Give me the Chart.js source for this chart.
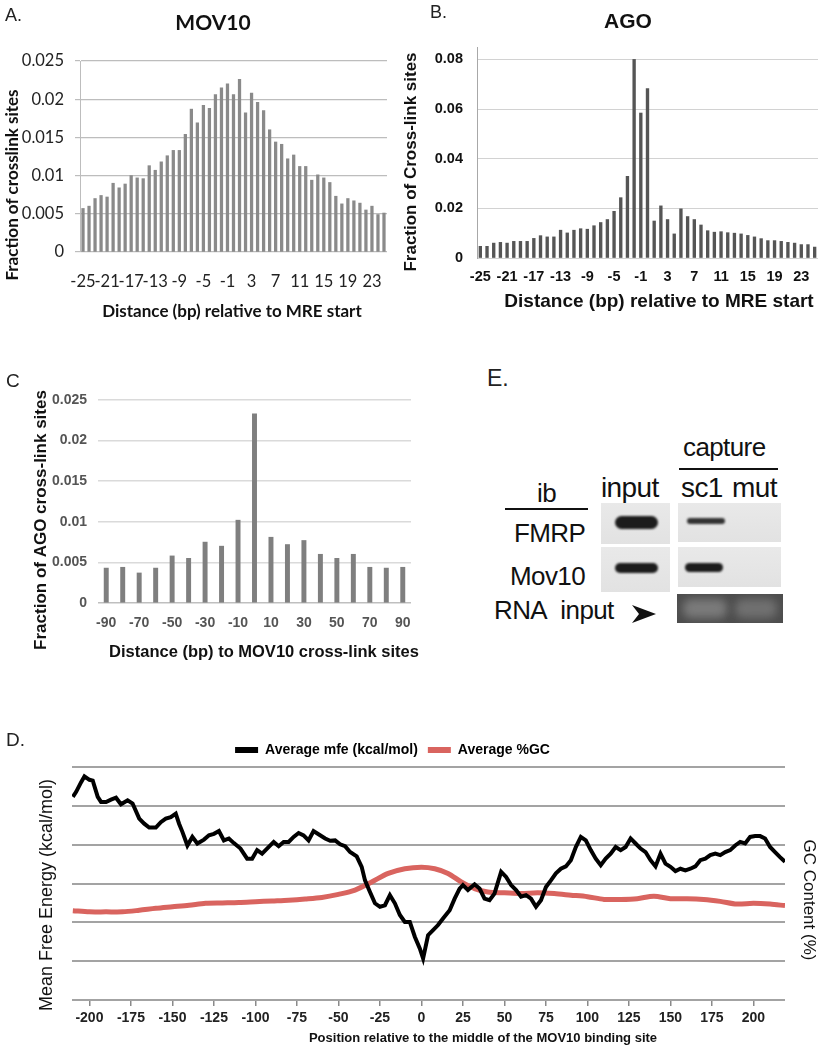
<!DOCTYPE html>
<html>
<head>
<meta charset="utf-8">
<script src="https://cdn.jsdelivr.net/npm/chart.js@4.4.1/dist/chart.umd.min.js"></script>
<style>
  body { margin: 0; background: #fff; width: 826px; height: 1050px; position: relative; overflow: hidden; font-family: "Liberation Sans", Arial, sans-serif; }
  .pane { position: absolute; }
  .letter { position: absolute; font-family: "Liberation Sans Narrow", sans-serif; color: #222; line-height: 1; }
  .blot { position: absolute; background: linear-gradient(180deg, #e9e9e9, #e2e2e2); }
  .band { position: absolute; background: #1c1c1c; border-radius: 7px; filter: blur(0.8px); }
  .lbl { position: absolute; font-size: 26px; color: #111; line-height: 1; white-space: nowrap; letter-spacing: -0.6px; }
  .rule { position: absolute; height: 1.5px; background: #111; }
</style>
</head>
<body>

<div class="pane" style="left:0;top:0"><canvas id="chartA" width="400" height="330"></canvas></div>
<div class="pane" style="left:400px;top:0"><canvas id="chartB" width="426" height="330"></canvas></div>
<div class="pane" style="left:0;top:330px"><canvas id="chartC" width="420" height="330"></canvas></div>
<div class="pane" style="left:0;top:730px"><canvas id="chartD" width="826" height="320"></canvas></div>

<div class="letter" style="left:5px;top:6px;font-size:18px">A.</div>
<div class="letter" style="left:430px;top:3px;font-size:18px">B.</div>
<div class="letter" style="left:6px;top:371px;font-size:19px">C</div>
<div class="letter" style="left:6px;top:730px;font-size:19px">D.</div>
<div class="letter" style="left:487px;top:367px;font-size:23px">E.</div>

<!-- panel E : pull-down blot -->
<div class="lbl" style="left:683px;top:434px">capture</div>
<div class="rule" style="left:679px;top:468px;width:99px"></div>
<div class="lbl" style="left:601px;top:474px;font-size:28px">input</div>
<div class="lbl" style="left:681px;top:474px;font-size:28px">sc1</div>
<div class="lbl" style="left:732px;top:474px;font-size:28px">mut</div>
<div class="lbl" style="left:537px;top:480px">ib</div>
<div class="rule" style="left:505px;top:508px;width:83px"></div>
<div class="lbl" style="left:514px;top:520px">FMRP</div>
<div class="lbl" style="left:510px;top:563px">Mov10</div>
<div class="lbl" style="left:494px;top:597px">RNA&nbsp;&nbsp;input</div>
<svg style="position:absolute;left:632px;top:605px" width="24" height="18"><path d="M0 0 L24 9 L0 18 L7 9 Z" fill="#111"/></svg>

<div class="blot" style="left:601px;top:503px;width:69px;height:41px"></div>
<div class="blot" style="left:678px;top:503px;width:103px;height:39px"></div>
<div class="blot" style="left:601px;top:547px;width:69px;height:45px"></div>
<div class="blot" style="left:678px;top:547px;width:103px;height:40px"></div>
<div class="band" style="left:615px;top:516px;width:43px;height:13px"></div>
<div class="band" style="left:687px;top:518px;width:38px;height:6px;background:#333"></div>
<div class="band" style="left:615px;top:563px;width:43px;height:10px"></div>
<div class="band" style="left:685px;top:563px;width:38px;height:9px"></div>
<div style="position:absolute;left:677px;top:594px;width:106px;height:29px;background:#4d4d4d;overflow:hidden">
  <div style="position:absolute;left:6px;top:5px;width:44px;height:19px;border-radius:8px;background:#7a7a7a;filter:blur(4px)"></div>
  <div style="position:absolute;left:58px;top:5px;width:42px;height:19px;border-radius:8px;background:#707070;filter:blur(4px)"></div>
</div>

<script>
// ---- data ----
const mreDist = ['-25','-24','-23','-22','-21','-20','-19','-18','-17','-16','-15','-14','-13','-12','-11','-10','-9','-8','-7','-6','-5','-4','-3','-2','-1',
  '0','1','2','3','4','5','6','7','8','9','10','11','12','13','14','15','16','17','18','19','20','21','22','23','24','25'];
const mreTickLabels = ['-25','-21','-17','-13','-9','-5','-1','3','7','11','15','19','23'];

const mov10Frac = [0.0057,0.0060,0.0070,0.0074,0.0072,0.0090,0.0084,0.0089,0.0100,0.0097,0.0096,0.0113,0.0107,0.0118,0.0126,0.0133,0.0133,
  0.0154,0.0187,0.0169,0.0192,0.0188,0.0206,0.0215,0.0220,0.0206,0.0226,0.0182,0.0208,0.0196,0.0185,0.0160,0.0144,0.0141,0.0122,0.0127,
  0.0112,0.0112,0.0094,0.0101,0.0097,0.0091,0.0073,0.0063,0.0070,0.0067,0.0064,0.0055,0.0060,0.0049,0.0051];

const agoFrac = [0.0047,0.0047,0.0060,0.0063,0.0060,0.0067,0.0067,0.0067,0.0079,0.0090,0.0085,0.0085,0.0112,0.0101,0.0112,0.0118,0.0116,
  0.0130,0.0143,0.0155,0.0188,0.0243,0.0329,0.0800,0.0584,0.0682,0.0149,0.0210,0.0155,0.0097,0.0198,0.0167,0.0155,0.0133,0.0110,0.0104,
  0.0106,0.0102,0.0100,0.0097,0.0091,0.0085,0.0078,0.0070,0.0070,0.0067,0.0063,0.0060,0.0054,0.0054,0.0044];

const mov10Dist = ['-90','-80','-70','-60','-50','-40','-30','-20','-10','0','10','20','30','40','50','60','70','80','90'];
const mov10TickLabels = ['-90','-70','-50','-30','-10','10','30','50','70','90'];
const agoNearMov10 = [0.0043,0.0044,0.0037,0.0043,0.0058,0.0055,0.0075,0.0070,0.0102,0.0233,0.0081,0.0072,0.0077,0.0060,0.0055,0.0060,0.0044,0.0043,0.0044];

// panel D: no tick values on the y axes, so values are in gridline units (bottom line = 0, top line = 6)
const mfePos = [-210,-208,-205,-203,-200,-198,-195,-193,-190,-187,-184,-181,-177,-174,-170,-167,-164,-160,-157,-154,-151,-148,-146,-144,
  -141,-138,-135,-131,-128,-125,-122,-119,-116,-113,-109,-105,-102,-99,-96,-93,-89,-86,-83,-80,-77,-74,-71,-68,-65,-62,-58,-55,-52,-49,
  -46,-43,-39,-36,-34,-31,-28,-25,-22,-19,-16,-13,-10,-7,-4,-1,1,4,7,10,13,17,20,23,25,28,32,35,38,41,44,48,51,54,57,60,63,66,69,72,75,
  78,81,84,87,90,93,96,99,102,105,108,111,114,117,120,123,126,129,132,135,138,141,144,147,150,153,156,159,162,165,168,171,174,177,180,
  183,186,189,192,195,198,201,204,207,210,213,216,219];
const mfeVal = [5.23,5.36,5.61,5.76,5.67,5.65,5.23,5.10,5.10,5.16,5.21,5.04,5.14,5.06,4.67,4.54,4.44,4.44,4.58,4.67,4.71,4.80,4.54,4.33,
  3.98,4.20,4.03,4.13,4.24,4.28,4.35,4.11,4.16,4.04,3.90,3.64,3.64,3.86,3.77,3.90,4.07,3.96,4.07,4.07,4.20,4.30,4.24,4.11,4.35,4.27,4.16,
  4.10,4.11,4.01,3.96,3.81,3.70,3.43,3.08,2.78,2.49,2.40,2.44,2.70,2.49,2.19,2.01,2.01,1.63,1.33,1.07,1.67,1.80,1.93,2.10,2.31,2.61,2.87,
  2.96,2.83,2.98,2.87,2.61,2.57,2.74,3.30,3.17,2.96,2.83,2.66,2.70,2.61,2.40,2.57,2.91,3.08,3.26,3.38,3.44,3.60,3.94,4.20,4.11,3.86,3.64,
  3.47,3.64,3.77,3.94,3.86,3.94,4.16,4.03,3.90,3.81,3.60,3.44,3.77,3.51,3.43,3.32,3.38,3.34,3.38,3.44,3.60,3.64,3.73,3.77,3.73,3.81,3.86,
  3.98,4.07,4.03,4.20,4.22,4.22,4.16,3.94,3.81,3.68,3.56];

const gcPos = [-210,-200,-190,-180,-170,-160,-150,-140,-130,-120,-110,-100,-90,-80,-70,-60,-50,-40,-30,-20,-10,0,8,16,24,32,40,50,60,70,
  80,90,100,110,120,130,140,150,160,170,180,190,200,210,219];
const gcVal = [2.30,2.27,2.27,2.27,2.31,2.36,2.40,2.44,2.49,2.50,2.51,2.53,2.55,2.57,2.60,2.64,2.72,2.83,3.04,3.26,3.38,3.42,3.38,3.26,
  3.04,2.87,2.78,2.76,2.74,2.76,2.74,2.70,2.66,2.59,2.59,2.61,2.67,2.61,2.61,2.59,2.54,2.47,2.49,2.47,2.43];
const posTicks = [-200,-175,-150,-125,-100,-75,-50,-25,0,25,50,75,100,125,150,175,200];

// draws titles at fixed spots, like the original figure
function textPlugin(items) {
  return {
    id: 'freeText',
    afterDraw(chart) {
      const ctx = chart.ctx;
      items.forEach(t => {
        ctx.save();
        ctx.font = t.font;
        ctx.fillStyle = t.color || '#111';
        ctx.textAlign = 'center';
        ctx.textBaseline = 'middle';
        ctx.translate(t.x, t.y);
        if (t.rot) ctx.rotate(t.rot);
        ctx.fillText(t.text, 0, 0);
        ctx.restore();
      });
    }
  };
}

function fixWidth(w) { return s => { s.width = w; }; }
function fixHeight(h) { return s => { s.height = h; }; }
const plainNum = v => String(parseFloat(v.toFixed(4)));   // 0.02 not 0.020

Chart.defaults.animation = false;
Chart.defaults.responsive = false;
Chart.defaults.plugins.legend.display = false;
Chart.defaults.plugins.tooltip.enabled = false;

// ---- A. MOV10 ----
new Chart(document.getElementById('chartA'), {
  type: 'bar',
  data: { labels: mreDist, datasets: [{ data: mov10Frac, backgroundColor: '#8a8a8a', barThickness: 2.6 }] },
  options: {
    layout: { padding: { top: 61, right: 13, left: 0, bottom: 0 } },
    scales: {
      x: {
        afterFit: fixHeight(78),
        grid: { display: false },
        border: { display: false },
        ticks: {
          autoSkip: false, maxRotation: 0, padding: 12, color: '#222',
          font: { family: 'Lato', size: 16.5 },
          callback: (v, i) => mreTickLabels.includes(mreDist[i]) ? mreDist[i] : ''
        }
      },
      y: {
        min: 0, max: 0.025,
        afterFit: fixWidth(80),
        grid: { color: '#bdbdbd', lineWidth: 1.2, tickLength: 5 },
        border: { color: '#bdbdbd' },
        ticks: { stepSize: 0.005, padding: 11, color: '#222', font: { family: 'Lato', size: 16.5 }, callback: plainNum }
      }
    }
  },
  plugins: [textPlugin([
    { text: 'MOV10', x: 213, y: 23, font: 'bold 21px Lato' },
    { text: 'Fraction of crosslink sites', x: 13, y: 185, rot: -Math.PI / 2, font: 'bold 17px Lato' },
    { text: 'Distance (bp) relative to MRE start', x: 232, y: 312, font: 'bold 17px Lato' }
  ])]
});

// ---- B. AGO ----
new Chart(document.getElementById('chartB'), {
  type: 'bar',
  data: { labels: mreDist, datasets: [{ data: agoFrac, backgroundColor: '#555555', barThickness: 2.7 }] },
  options: {
    layout: { padding: { top: 47, right: 8, left: 0, bottom: 0 } },
    scales: {
      x: {
        afterFit: fixHeight(72),
        grid: { display: false },
        border: { display: false },
        ticks: {
          autoSkip: false, maxRotation: 0, padding: 2, color: '#111',
          font: { family: 'Liberation Sans', size: 14.5, weight: 'bold' },
          callback: (v, i) => mreTickLabels.includes(mreDist[i]) ? mreDist[i] : ''
        }
      },
      y: {
        min: 0, max: 0.085,
        afterFit: fixWidth(77),
        grid: { color: '#d2d2d2', lineWidth: 1, drawTicks: false },
        border: { color: '#a8a8a8' },
        ticks: { stepSize: 0.02, includeBounds: false, padding: 14, color: '#111', font: { family: 'Liberation Sans', size: 14.5, weight: 'bold' }, callback: plainNum }
      }
    }
  },
  plugins: [textPlugin([
    { text: 'AGO', x: 228, y: 22, font: 'bold 21px "Liberation Sans"' },
    { text: 'Fraction of Cross-link sites', x: 11, y: 162, rot: -Math.PI / 2, font: 'bold 17px "Liberation Sans"' },
    { text: 'Distance (bp) relative to MRE start', x: 259, y: 302, font: 'bold 19px "Liberation Sans"' }
  ])]
});

// ---- C. AGO around MOV10 sites ----
new Chart(document.getElementById('chartC'), {
  type: 'bar',
  data: { labels: mov10Dist, datasets: [{ data: agoNearMov10, backgroundColor: '#7f7f7f', barThickness: 4.3 }] },
  options: {
    layout: { padding: { top: 70, right: 9, left: 0, bottom: 0 } },
    scales: {
      x: {
        afterFit: fixHeight(57),
        grid: { display: false },
        border: { display: false },
        ticks: {
          autoSkip: false, maxRotation: 0, padding: 4, color: '#555',
          font: { family: 'Liberation Sans', size: 14, weight: 'bold' },
          callback: (v, i) => mov10TickLabels.includes(mov10Dist[i]) ? mov10Dist[i] : ''
        }
      },
      y: {
        min: 0, max: 0.025,
        afterFit: fixWidth(98),
        grid: { color: c => c.tick.value === 0 ? '#bfbfbf' : '#dadada', lineWidth: 1.5, drawTicks: false },
        border: { display: false },
        ticks: { stepSize: 0.005, padding: 11, color: '#555', font: { family: 'Liberation Sans', size: 14, weight: 'bold' }, callback: plainNum }
      }
    }
  },
  plugins: [textPlugin([
    { text: 'Fraction of AGO cross-link sites', x: 41, y: 190, rot: -Math.PI / 2, font: 'bold 17px "Liberation Sans"' },
    { text: 'Distance (bp) to MOV10 cross-link sites', x: 264, y: 322, font: 'bold 16.5px "Liberation Sans"' }
  ])]
});

// ---- D. mfe and GC around MOV10 binding site ----
const toPoints = (xs, ys) => xs.map((x, i) => ({ x: x, y: ys[i] }));
new Chart(document.getElementById('chartD'), {
  type: 'line',
  data: {
    datasets: [
      { label: 'Average mfe (kcal/mol)', data: toPoints(mfePos, mfeVal), borderColor: '#000', backgroundColor: '#000',
        borderWidth: 4, pointRadius: 0, tension: 0 },
      { label: 'Average %GC', data: toPoints(gcPos, gcVal), borderColor: '#d9645f', backgroundColor: '#d9645f',
        borderWidth: 5, pointRadius: 0, tension: 0.3 }
    ]
  },
  options: {
    layout: { padding: { top: 3, right: 41, left: 0, bottom: 0 } },
    plugins: {
      legend: {
        display: true, position: 'top',
        labels: {
          boxWidth: 23, boxHeight: 6, padding: 10, color: '#111',
          font: { family: 'Liberation Sans', size: 14, weight: 'bold' },
          generateLabels: chart => chart.data.datasets.map((d, i) => ({
            text: d.label, fillStyle: d.borderColor, strokeStyle: d.borderColor, lineWidth: 0, datasetIndex: i, hidden: false
          }))
        }
      }
    },
    scales: {
      x: {
        type: 'linear', min: -210.5, max: 219,
        afterFit: fixHeight(50),
        afterBuildTicks: s => { s.ticks = posTicks.map(v => ({ value: v })); },
        grid: { drawOnChartArea: false, color: '#8a8a8a', lineWidth: 1.5, tickLength: 6 },
        border: { display: false },
        ticks: { maxRotation: 0, autoSkip: false, padding: 4, color: '#222', font: { family: 'Liberation Sans', size: 14, weight: 'bold' } }
      },
      y: {
        min: 0, max: 6,
        afterFit: fixWidth(72),
        grid: { color: '#a3a3a3', lineWidth: 2, drawTicks: false },
        border: { display: false },
        ticks: { stepSize: 1, display: false }
      }
    }
  },
  plugins: [textPlugin([
    { text: 'Mean Free Energy (kcal/mol)', x: 47, y: 165, rot: -Math.PI / 2, font: '18px "Liberation Sans"' },
    { text: 'GC Content (%)', x: 809, y: 170, rot: Math.PI / 2, font: '17px "Liberation Sans"' },
    { text: 'Position relative to the middle of the MOV10 binding site', x: 483, y: 308, font: 'bold 13px "Liberation Sans"' }
  ])]
});
</script>
</body>
</html>
